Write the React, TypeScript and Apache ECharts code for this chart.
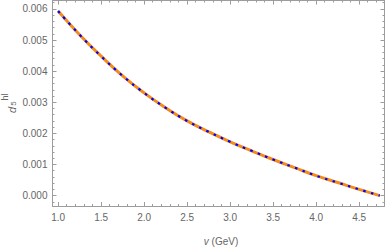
import React, { useEffect, useRef } from "react";
import * as echarts from "echarts";

const vValues = [1.0, 1.25, 1.5, 1.75, 2.0, 2.25, 2.5, 2.75, 3.0, 3.25, 3.5, 3.75, 4.0, 4.25, 4.5, 4.74];
const d5hlValues = [0.00593, 0.00517, 0.00448, 0.00385, 0.0033, 0.00282, 0.0024, 0.00205, 0.00173, 0.00144, 0.00116, 0.0009, 0.00064, 0.00042, 0.0002, 0.0];
const xTickLabels = [1.0, 1.5, 2.0, 2.5, 3.0, 3.5, 4.0, 4.5];
const yTickLabels = [0.0, 0.001, 0.002, 0.003, 0.004, 0.005, 0.006];

const X_MIN = 0.935;
const X_MAX = 4.795;
const Y_MIN = -0.000334;
const Y_MAX = 0.00627;

const FRAME = "#9c9c9c";
const LABEL = "#666666";
const FONT = "Liberation Sans";

function range(a: number, b: number, step: number, digits: number) {
  const out: number[] = [];
  for (let v = a; v <= b + step / 1000; v += step) out.push(Number(v.toFixed(digits)));
  return out;
}

export default function App() {
  const ref = useRef<HTMLDivElement>(null);
  useEffect(() => {
    document.body.style.margin = "0";
    if (!ref.current) return;
    const chart = echarts.init(ref.current, undefined, { renderer: "svg" });
    const xMinor = range(1.0, 4.7, 0.1, 1);
    const yMinor = range(-0.0002, 0.0062, 0.0002, 4);
    const mkX = (pos: string, major: boolean, labels: boolean) => ({
      type: "value",
      position: pos,
      min: X_MIN,
      max: X_MAX,
      splitLine: { show: false },
      axisLine: { show: major, onZero: false, lineStyle: { color: FRAME, width: 1 } },
      axisTick: {
        show: true,
        inside: true,
        length: major ? 4 : 2,
        customValues: major ? xTickLabels : xMinor,
        lineStyle: { color: FRAME, width: 1 },
      },
      axisLabel: {
        show: labels,
        customValues: xTickLabels,
        formatter: (v: number) => v.toFixed(1),
        color: LABEL,
        fontFamily: FONT,
        fontSize: 10,
        margin: 6,
      },
    });
    const mkY = (pos: string, major: boolean, labels: boolean) => ({
      type: "value",
      position: pos,
      min: Y_MIN,
      max: Y_MAX,
      splitLine: { show: false },
      axisLine: { show: major, onZero: false, lineStyle: { color: FRAME, width: 1 } },
      axisTick: {
        show: true,
        inside: true,
        length: major ? 4 : 2,
        customValues: major ? yTickLabels : yMinor,
        lineStyle: { color: FRAME, width: 1 },
      },
      axisLabel: {
        show: labels,
        customValues: yTickLabels,
        formatter: (v: number) => v.toFixed(3),
        color: LABEL,
        fontFamily: FONT,
        fontSize: 10,
        margin: 5,
      },
    });
    const data = vValues.map((v, i) => [v, d5hlValues[i]]);
    chart.setOption({
      animation: false,
      grid: { left: 52.5, right: 2.5, top: 0.5, bottom: 41, containLabel: false },
      xAxis: [mkX("bottom", true, true), mkX("bottom", false, false), mkX("top", true, false), mkX("top", false, false)],
      yAxis: [mkY("left", true, true), mkY("left", false, false), mkY("right", true, false), mkY("right", false, false)],
      series: [
        {
          type: "line",
          data,
          smooth: true,
          showSymbol: false,
          lineStyle: { color: "#F28C1C", width: 3 },
          z: 2,
        },
        {
          type: "line",
          data,
          smooth: true,
          showSymbol: false,
          lineStyle: { color: "#0000ff", width: 2.2, type: [2.5, 5.5] },
          z: 3,
        },
      ],
      graphic: [
        {
          type: "text",
          x: 221,
          y: 241,
          style: {
            text: "{i|v} (GeV)",
            align: "center",
            verticalAlign: "middle",
            fill: LABEL,
            font: `10px ${FONT}`,
            rich: { i: { fontStyle: "italic", fontSize: 10, fontFamily: FONT, fill: LABEL } },
          },
        },
        {
          type: "text",
          x: 12,
          y: 110,
          rotation: Math.PI / 2,
          style: { text: "d", align: "center", verticalAlign: "middle", fill: LABEL, font: `italic 11px ${FONT}` },
        },
        {
          type: "text",
          x: 13,
          y: 103.5,
          rotation: Math.PI / 2,
          style: { text: "5", align: "center", verticalAlign: "middle", fill: LABEL, font: `8px ${FONT}` },
        },
        {
          type: "text",
          x: 4.5,
          y: 97,
          rotation: Math.PI / 2,
          style: { text: "hl", align: "center", verticalAlign: "middle", fill: LABEL, font: `9px ${FONT}` },
        },
      ],
    });
    return () => chart.dispose();
  }, []);
  return <div ref={ref} style={{ width: 387, height: 247 }} />;
}
